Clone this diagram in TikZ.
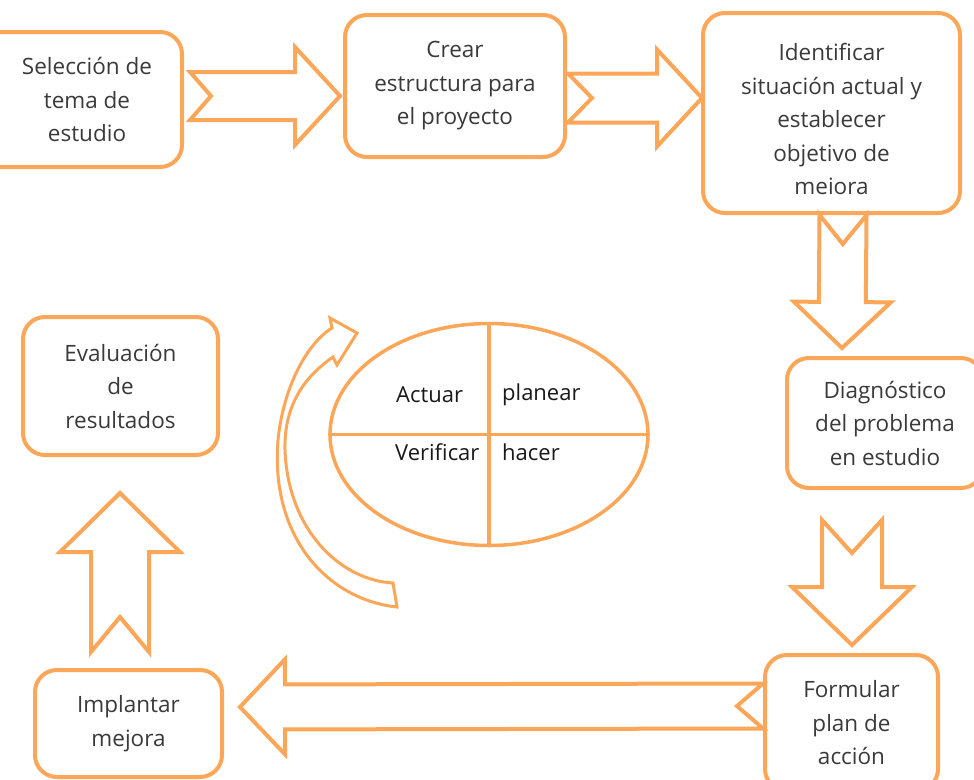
\documentclass[tikz,border=0pt]{standalone}
\usepackage{fontspec}
\setmainfont{Open Sans}
\usetikzlibrary{calc,shapes.geometric}
\definecolor{pdcaorange}{RGB}{251,166,88}
\definecolor{boxtext}{RGB}{58,58,58}
\definecolor{celltext}{RGB}{25,25,25}
\tikzset{
  stepbox/.style={draw=pdcaorange, line width=4pt, rounded corners=22pt, fill=white,
    align=center, text=boxtext, font=\fontsize{22.5}{33.5}\selectfont, inner sep=0pt},
  steptext/.style={align=center, text=boxtext, font=\fontsize{22.5}{33.5}\selectfont, inner sep=0pt},
  barrow/.style={draw=pdcaorange, line width=4pt, fill=white, line join=miter},
  celllabel/.style={anchor=west, text=celltext, font=\fontsize{22}{25}\selectfont, inner sep=0pt},
  cycleline/.style={draw=pdcaorange, line width=3.5pt},
}
% block arrow: #1 tail, #2 tip, #3 shaft half width, #4 head half width,
% #5 head length, #6 tail notch depth
\newcommand\blockarrow[6]{%
  \path ($(#2)!#5!(#1)$) coordinate (hb);
  \draw[barrow] ($(#1)!#3!90:(#2)$) -- ($(#1)!#6!(#2)$) -- ($(#1)!#3!-90:(#2)$)
    -- ($(hb)!#3!90:(#1)$) -- ($(hb)!#4!90:(#1)$) -- (#2)
    -- ($(hb)!#4!-90:(#1)$) -- ($(hb)!#3!-90:(#1)$) -- cycle;}
\begin{document}
\begin{tikzpicture}[x=1pt,y=-1pt]
\useasboundingbox (0,0) rectangle (974,779);
\clip (0,0) rectangle (974,779);

% process steps
\node[stepbox, minimum width=210, minimum height=135] (sel) at (77,99.5) {};
\node[steptext] (seltxt) at ($(sel.center)+(10,0)$) {Selección de\\tema de\\estudio};
\node[stepbox, minimum width=220, minimum height=142] (crear) at (455,86)
  {Crear\\estructura para\\el proyecto};
\node[stepbox, minimum width=257, minimum height=200] (ident) at (831.5,113) {};
\node[steptext] (identtxt) at ($(ident.center)+(0,6)$)
  {Identificar\\situación actual y\\establecer\\objetivo de\\meiora};
\node[stepbox, minimum width=196, minimum height=130] (diag) at (885,423)
  {Diagnóstico\\del problema\\en estudio};
\node[stepbox, minimum width=173, minimum height=136] (form) at (851.5,723)
  {Formular\\plan de\\acción};
\node[stepbox, minimum width=187, minimum height=107] (impl) at (128.5,723.5)
  {Implantar\\mejora};
\node[stepbox, minimum width=195, minimum height=138] (eval) at (120.5,386)
  {Evaluación\\de\\resultados};

% arrow ends
\coordinate (a1s) at ($(sel.east)+(6,-3.5)$);
\coordinate (a1e) at ($(crear.west)+(-3,10)$);
\coordinate (a2s) at ($(crear.east)+(1,12)$);
\coordinate (a2e) at ($(ident.west)+(1,-15)$);
\coordinate (a3s) at ($(ident.south)+(11.5,0)$);
\coordinate (a3e) at ($(diag.north)+(-43,-8)$);
\coordinate (a4s) at ($(diag.south)+(-33,30)$);
\coordinate (a4e) at ($(form.north)+(0.5,-8)$);
\coordinate (a5s) at ($(form.west)+(0,-17)$);
\coordinate (a5e) at ($(impl.east)+(16,-16.5)$);
\coordinate (a6s) at ($(impl.north)+(-8.5,-16)$);
\coordinate (a6e) at ($(eval.south)+(-0.5,36)$);

\blockarrow{a1s}{a1e}{24pt}{49pt}{45pt}{21pt}
\blockarrow{a2s}{a2e}{24.5pt}{48.5pt}{45pt}{24pt}
\blockarrow{a3s}{a3e}{23.5pt}{48.5pt}{46pt}{29pt}
\blockarrow{a4s}{a4e}{30pt}{60pt}{58pt}{33pt}
\blockarrow{a5s}{a5e}{22.5pt}{47.5pt}{45pt}{26pt}
\blockarrow{a6s}{a6e}{29pt}{60pt}{59pt}{35pt}

% PDCA wheel
\node[ellipse, cycleline, minimum width=318, minimum height=222, inner sep=0pt] (wheel) at (489,434.5) {};
\draw[cycleline] (wheel.west) -- (wheel.east);
\draw[cycleline] (wheel.north) -- (wheel.south);
\node[celllabel] (act) at (396,395) {Actuar};
\node[celllabel] (plan) at (502,395) {planear};
\node[celllabel] (ver) at (395,452) {Verificar};
\node[celllabel] (hac) at (502,452) {hacer};

% curved return arrow beside the wheel
\draw[draw=pdcaorange, line width=3pt, fill=white, line join=miter]
  (397,607) .. controls (330,600) and (270,540) .. (278,440)
  .. controls (283,390) and (305,345) .. (332,328)
  -- (330,318) -- (357,333) -- (337,365) -- (333,357)
  .. controls (300,380) and (284,410) .. (285,450)
  .. controls (288,530) and (340,580) .. (393,583) -- cycle;
\end{tikzpicture}
\end{document}
